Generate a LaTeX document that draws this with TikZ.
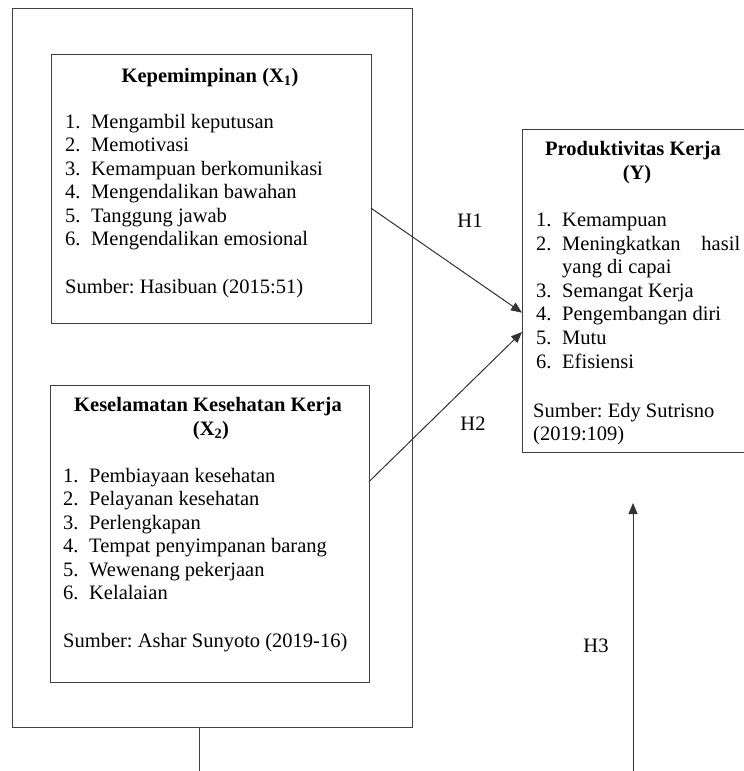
\documentclass[tikz,border=0pt]{standalone}
\usepackage{fontspec}
\setmainfont{Liberation Serif}
\usetikzlibrary{arrows.meta}
\frenchspacing

\tikzset{
  box/.style={draw=black!75, line width=1pt, anchor=north west, inner sep=0pt, outer sep=0pt},
  txt/.style={anchor=base west, inner sep=0pt, font=\fontsize{20.5}{23.6}\selectfont},
  ttl/.style={anchor=base, inner sep=0pt, font=\fontsize{20.5}{23.6}\selectfont\bfseries},
  lbl/.style={anchor=base, inner sep=0pt, font=\fontsize{20.5}{23.6}\selectfont},
  line/.style={draw=black!75, line width=1pt},
  link/.style={draw=black!80, line width=1pt, -{Triangle[length=11pt,width=9pt]}},
}

\begin{document}
\begin{tikzpicture}[x=1pt,y=1pt,yscale=-1]
\useasboundingbox (0,0) rectangle (744,771);
\clip (0,0) rectangle (744,771);

%Shape: Rectangle (outer frame)
\node [box, minimum width=400pt, minimum height=719pt] (outer) at (12,8) {};
%Shape: Rectangle (X1)
\node [box, minimum width=320pt, minimum height=269pt] (x1box) at (51,54) {};
%Shape: Rectangle (X2)
\node [box, minimum width=319pt, minimum height=297pt] (x2box) at (50,385) {};
%Shape: Rectangle (Y)
\node [box, minimum width=228pt, minimum height=323pt] (ybox) at (522,129) {};

% Text Node
\node [ttl] (x1t) at (210,82) {Kepemimpinan (X\textsubscript{1})};
\foreach \entry [count=\i] in {Mengambil keputusan, Memotivasi, Kemampuan berkomunikasi, Mengendalikan bawahan, Tanggung jawab, Mengendalikan emosional}
  \node [txt] (x1i\i) at (65,{128+23.55*(\i-1)}) {\makebox[26pt][l]{\i.}\entry};
\node [txt] (x1s) at (65,293) {Sumber: Hasibuan (2015:51)};

% Text Node
\node [ttl] (x2t) at (208,411) {Keselamatan Kesehatan Kerja};
\node [ttl] (x2t2) at (211,435) {(X\textsubscript{2})};
\foreach \entry [count=\i] in {Pembiayaan kesehatan, Pelayanan kesehatan, Perlengkapan, Tempat penyimpanan barang, Wewenang pekerjaan, Kelalaian}
  \node [txt] (x2i\i) at (63,{482+23.55*(\i-1)}) {\makebox[26pt][l]{\i.}\entry};
\node [txt] (x2s) at (63,647) {Sumber: Ashar Sunyoto (2019-16)};

% Text Node
\node [ttl] (yt) at (633,155) {Produktivitas Kerja};
\node [ttl] (yt2) at (637,179) {(Y)};
\node [txt] (yi1) at (536,226.7) {\makebox[26pt][l]{1.}Kemampuan};
\node [txt] (yi2) at (536,250.2) {\makebox[26pt][l]{2.}\makebox[178pt][l]{Meningkatkan\hfill hasil}};
\node [txt] (yi2b) at (562,273.8) {yang di capai};
\node [txt] (yi3) at (536,297.3) {\makebox[26pt][l]{3.}Semangat Kerja};
\node [txt] (yi4) at (536,320.9) {\makebox[26pt][l]{4.}Pengembangan diri};
\node [txt] (yi5) at (536,344.4) {\makebox[26pt][l]{5.}Mutu};
\node [txt] (yi6) at (536,368) {\makebox[26pt][l]{6.}Efisiensi};
\node [txt] (ys) at (533,417) {Sumber: Edy Sutrisno};
\node [txt] (ys2) at (533,440) {(2019:109)};

% Text Node
\node [lbl] (h1) at (470,227) {H1};
\node [lbl] (h2) at (473,430) {H2};
\node [lbl] (h3) at (596,652) {H3};

%Straight Lines
\draw [link] (x1box.-7) -- (ybox.191);
\draw [link] (x2box.18) -- (ybox.200);
\coordinate (h3tail) at (633,771);
\coordinate (h3head) at (633,503);
\draw [link] (h3tail) -- (h3head);
\coordinate (trunk) at (199,771);
\draw [line] (outer.south -| trunk) -- (trunk);

\end{tikzpicture}
\end{document}
